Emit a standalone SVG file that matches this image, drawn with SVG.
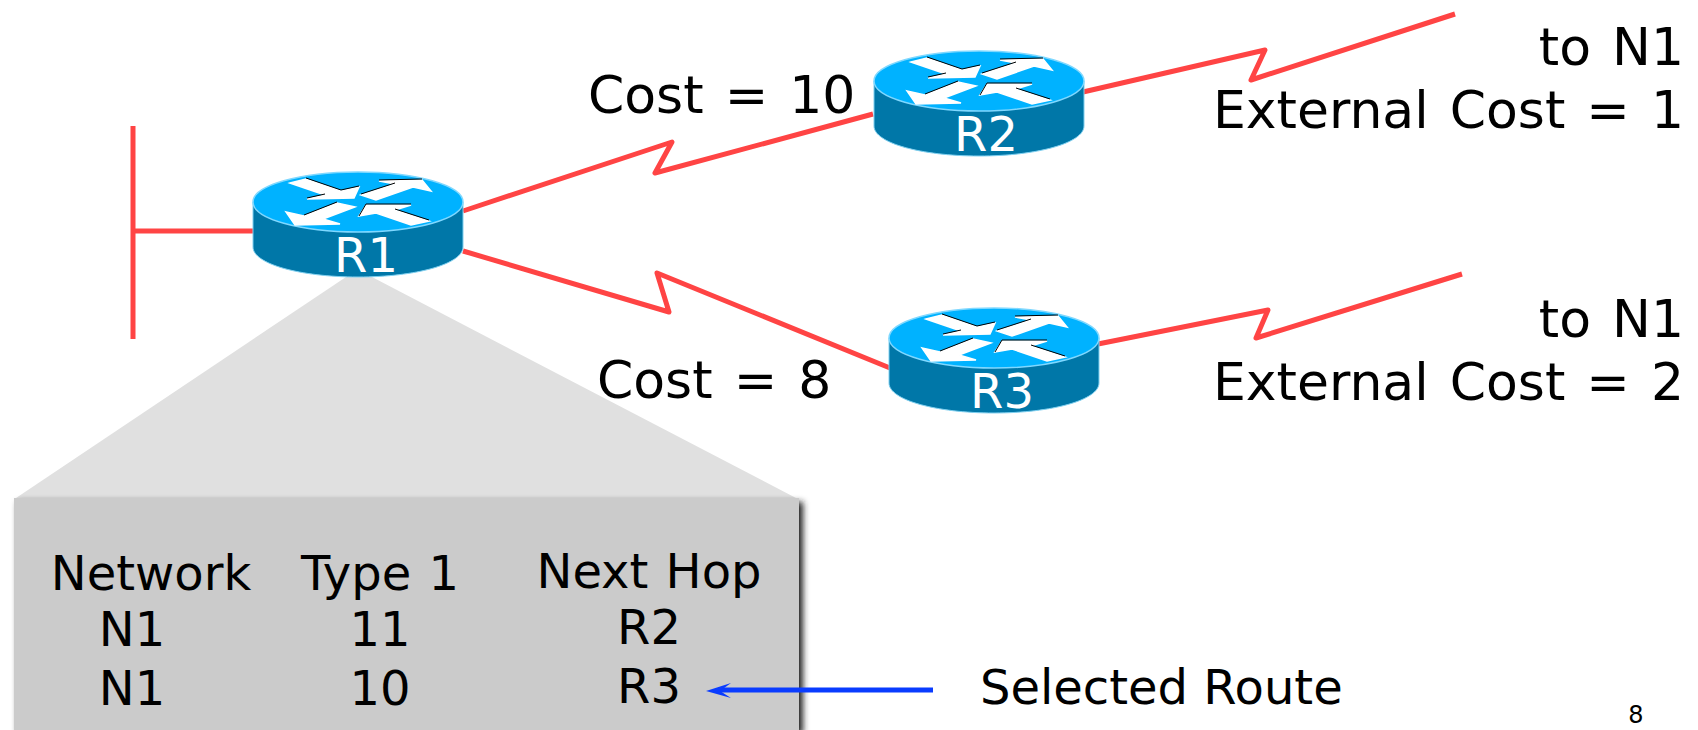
<svg xmlns="http://www.w3.org/2000/svg" width="1698" height="730" viewBox="0 0 1698 730">
<style>
text{font-family:"DejaVu Sans",Verdana,sans-serif;fill:#000}
.l{font-size:52px;word-spacing:4.5px}
.r{text-anchor:end}
.t{font-size:48px;text-anchor:middle;word-spacing:2px}
.n{font-size:48px;fill:#fff;text-anchor:middle}
.link{fill:none;stroke:#ff4444;stroke-width:5;stroke-linejoin:round}
.aw{fill:#fff;stroke:#fff;stroke-width:1.5}
.ae{fill:none;stroke:#000;stroke-width:1}
</style>
<defs>
<filter id="sh" x="-5%" y="-5%" width="110%" height="110%"><feGaussianBlur stdDeviation="3"/></filter>
<g id="router">
<path d="M-105 0V45C-105 62 -58 75 0 75S105 62 105 45V0Z" fill="#0077a8" stroke="#7fd0f0" stroke-width="1"/>
<ellipse cx="0" cy="0" rx="105" ry="30" fill="#00b2ff" stroke="#7fd8ff" stroke-width="1.5"/>
<polygon class="aw" points="-68,-19 -52,-23 -17,-11 1,-15 -4,-4 -51,-3 -33,-7"/>
<polygon class="aw" points="3,-7 37,-18 21,-21 64,-22 73,-11 55,-15 18,-2"/>
<polygon class="aw" points="-72,10 -54,14 -21,1 -3,5 -35,17 -18,22 -63,23"/>
<polygon class="aw" points="1,14 8,3 53,3 37,8 71,19 53,23 18,11"/>
<path class="ae" d="M-52,-24L-17,-12L1,-16M-51,-4L-33,-8M3,-8L37,-19M21,-22L64,-23M-54,13L-21,0M1,14L8,2L53,2M37,7L71,18"/>
</g>
</defs>
<g id="connectors">
<path class="link" d="M133 126V339M133 231H253"/>
<path class="link" d="M463 211L672 142L655 173L873 114"/>
<path class="link" d="M1083 92L1265 50L1251 80L1455 14"/>
<path class="link" d="M463 251L669 312L657 273L890 368"/>
<path class="link" d="M1098 344L1268 310L1256 338L1462 274"/>
</g>
<g id="zoom-cone"><polygon points="346,277 372,277 796,498 16,498" fill="#e0e0e0"/></g>
<g id="r1"><use href="#router" x="358" y="202"/><text class="n" x="366" y="272">R1</text></g>
<g id="r2"><use href="#router" x="979" y="81"/><text class="n" x="986" y="151">R2</text></g>
<g id="r3"><use href="#router" x="994" y="338"/><text class="n" x="1002" y="408">R3</text></g>
<g id="labels">
<text class="l" x="588" y="113">Cost = 10</text>
<text class="l" x="597" y="398">Cost = 8</text>
<text class="l r" x="1684" y="65">to N1</text>
<text class="l r" x="1684" y="128">External Cost = 1</text>
<text class="l r" x="1684" y="337">to N1</text>
<text class="l r" x="1684" y="400">External Cost = 2</text>
<text x="980" y="704" style="font-size:48px">Selected Route</text>
<text x="1636" y="723" style="font-size:24px;text-anchor:middle">8</text>
</g>
<g id="route-table">
<rect x="18" y="502" width="785" height="232" fill="#222" filter="url(#sh)"/>
<rect x="14" y="498" width="785" height="232" fill="#cbcbcb"/>
<text class="t" x="151" y="590">Network</text>
<text class="t" x="380" y="590">Type 1</text>
<text class="t" x="649" y="588">Next Hop</text>
<text class="t" x="132" y="646">N1</text>
<text class="t" x="380" y="646">11</text>
<text class="t" x="649" y="644">R2</text>
<text class="t" x="132" y="705">N1</text>
<text class="t" x="380" y="705">10</text>
<text class="t" x="649" y="703">R3</text>
</g>
<g id="selected-arrow">
<path d="M933 690H718" fill="none" stroke="#0a3cff" stroke-width="5"/>
<polygon points="706,691 731,683 720,691 731,698" fill="#0a3cff"/>
</g>
</svg>
